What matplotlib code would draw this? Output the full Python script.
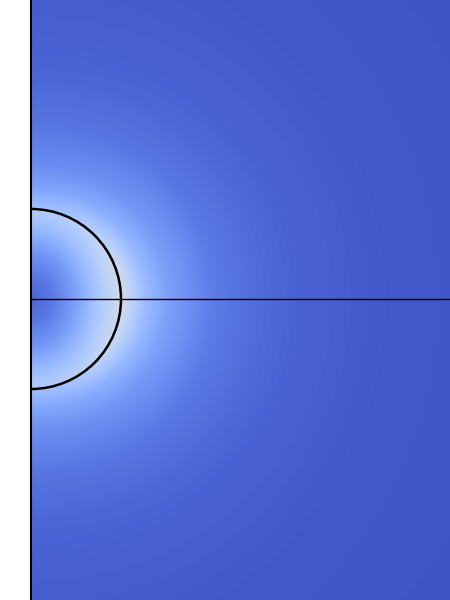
import numpy as np
import matplotlib
matplotlib.use("Agg")
import matplotlib.pyplot as plt
from matplotlib.patches import Arc

# Field levels (fraction of the coolwarm colour scale),
# along the symmetry axis ("pole") and along the equator, vs. radius / sphere radius.
r_inside = [0.0, 0.25, 0.5, 0.75, 0.99]
pole_inside = [0.06, 0.10, 0.17, 0.27, 0.36]
equator_inside = [0.06, 0.11, 0.21, 0.34, 0.45]

r_outside = [1.01, 1.25, 1.5, 2.0, 2.5, 3.0, 4.0, 6.0]
pole_outside = [0.30, 0.21, 0.15, 0.09, 0.06, 0.045, 0.03, 0.02]
equator_outside = [0.46, 0.30, 0.21, 0.115, 0.075, 0.05, 0.03, 0.02]

sphere_radius = 1.0
x_range = [0.0, 4.656]
y_range = [-3.344, 3.322]

fig = plt.figure(figsize=(4.5, 6), dpi=100)
ax = fig.add_axes([31 / 450, 0, 419 / 450, 1])

nx, ny = 700, 1000
xs = np.linspace(x_range[0], x_range[1], nx)
ys = np.linspace(y_range[0], y_range[1], ny)
X, Y = np.meshgrid(xs, ys)
D = np.hypot(X, Y)
R = D / sphere_radius
s2 = (X / np.maximum(D, 1e-9)) ** 2

inside = R < 1.0
pi_ = np.interp(R, r_inside, pole_inside)
ei_ = np.interp(R, r_inside, equator_inside)
po_ = np.interp(R, r_outside, pole_outside)
eo_ = np.interp(R, r_outside, equator_outside)
F = np.where(inside, pi_ + (ei_ - pi_) * s2, po_ + (eo_ - po_) * s2)

ax.imshow(F, origin="lower", extent=[x_range[0], x_range[1], y_range[0], y_range[1]],
          cmap="coolwarm", vmin=0, vmax=1, aspect="auto", interpolation="bilinear")

ax.add_patch(Arc((0, 0), 2 * sphere_radius, 2 * sphere_radius, theta1=-90, theta2=90,
                 color="black", lw=1.8))
ax.axhline(0, color="black", lw=1.0)

ax.set_xlim(x_range)
ax.set_ylim(y_range)
ax.set_xticks([])
ax.set_yticks([])
for side in ["top", "right", "bottom"]:
    ax.spines[side].set_visible(False)
ax.spines["left"].set_linewidth(1.5)
ax.spines["left"].set_color("black")

fig.savefig("out.png", dpi=100)
